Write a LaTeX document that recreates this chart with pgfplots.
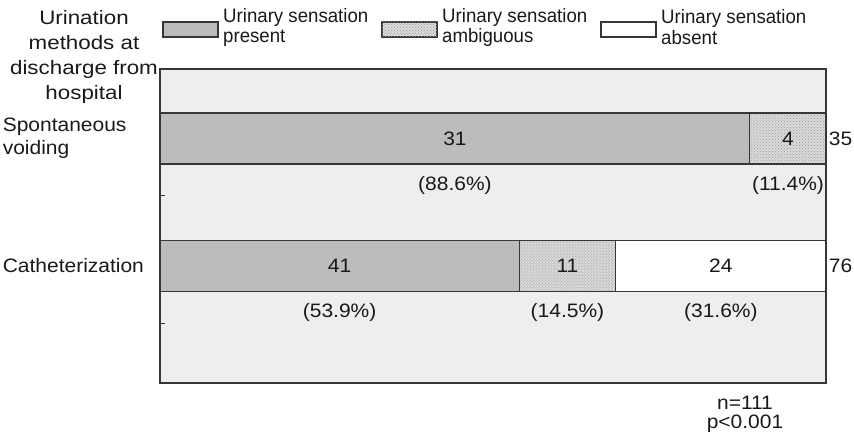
\documentclass[border=0pt]{standalone}
\usepackage{pgfplots}
\pgfplotsset{compat=1.18}
\usetikzlibrary{patterns}
\usepackage{fontspec}
\setmainfont{Liberation Sans}[FakeStretch=1.08]
\newfontfamily\legfont{Liberation Sans}[FakeStretch=0.96]
\newfontfamily\titfont{Liberation Sans}[FakeStretch=1.15]
\definecolor{bgc}{RGB}{238,238,238}
\definecolor{presentc}{RGB}{188,188,188}
\definecolor{ambc}{RGB}{218,218,218}
\definecolor{edgec}{RGB}{55,55,55}
\definecolor{txt}{RGB}{25,25,25}
\begin{document}
\fontsize{19.5pt}{23pt}\selectfont
\begin{tikzpicture}[x=1bp,y=1bp]
\path[use as bounding box] (-160,-51) rectangle (694,383);
\begin{axis}[
  at={(0,0)}, anchor=south west,
  scale only axis, width=666bp, height=314bp,
  xmin=0, xmax=100, ymin=0, ymax=314,
  xbar stacked, bar width=51bp,
  axis background/.style={fill=bgc},
  axis line style={draw=edgec, line width=1.1bp},
  xtick=\empty,
  ytick={117,244.5},
  yticklabels={{Catheterization},{Spontaneous\\voiding}},
  major tick length=0pt,
  extra y ticks={60,188},
  extra y tick labels={},
  extra y tick style={major tick length=5bp, tick style={draw=edgec, line width=0.8bp}},
  tick pos=left, tick align=inside,
  yticklabel style={align=left, text width=154bp, inner sep=0pt, xshift=-3bp, text=txt, font=\fontsize{19.5pt}{23pt}\selectfont},
  clip=false,
]
\addplot[fill=presentc, draw=edgec, line width=1.1bp] coordinates {(88.571,244.5) (53.947,117)};
\addplot[fill=ambc, draw=edgec, line width=1.1bp, postaction={pattern=crosshatch dots, pattern color=gray!80}] coordinates {(11.429,244.5) (14.474,117)};
\addplot[fill=white, draw=edgec, line width=1.1bp] coordinates {(0,244.5) (31.579,117)};
\coordinate (a1) at (axis cs:44.29,244.5);
\coordinate (a2) at (axis cs:94.29,244.5);
\coordinate (b1) at (axis cs:26.97,117);
\coordinate (b2) at (axis cs:61.18,117);
\coordinate (b3) at (axis cs:84.21,117);
\coordinate (pa1) at (axis cs:44.29,198);
\coordinate (pa2) at (axis cs:94.29,198);
\coordinate (pb1) at (axis cs:26.97,71);
\coordinate (pb2) at (axis cs:61.18,71);
\coordinate (pb3) at (axis cs:84.21,71);
\coordinate (ta) at (axis cs:100.4,244.5);
\coordinate (tb) at (axis cs:100.4,117);
\end{axis}
% counts in bars
\node[text=txt] at (a1) {31};
\node[text=txt] at (a2) {4};
\node[text=txt] at (b1) {41};
\node[text=txt] at (b2) {11};
\node[text=txt] at (b3) {24};
% percentages
\node[text=txt] at (pa1) {(88.6\%)};
\node[text=txt] at (pa2) {(11.4\%)};
\node[text=txt] at (pb1) {(53.9\%)};
\node[text=txt] at (pb2) {(14.5\%)};
\node[text=txt] at (pb3) {(31.6\%)};
% totals
\node[text=txt, anchor=west, inner sep=0pt] at (ta) {35};
\node[text=txt, anchor=west, inner sep=0pt] at (tb) {76};
% title
\node[text=txt, align=center, font=\titfont\fontsize{19.5pt}{25pt}\selectfont] at (-76,326) {Urination\\methods at\\discharge from\\hospital};
% legend
\draw[fill=presentc, draw=edgec, line width=1.1bp] (3,346) rectangle (58,361);
\node[text=txt, align=left, anchor=west, inner sep=0pt, font=\legfont\fontsize{19.5pt}{21pt}\selectfont] at (63,355.5) {Urinary sensation\\present};
\draw[fill=ambc, draw=edgec, line width=1.1bp, postaction={pattern=crosshatch dots, pattern color=gray!80}] (222,346) rectangle (277,361);
\node[text=txt, align=left, anchor=west, inner sep=0pt, font=\legfont\fontsize{19.5pt}{21pt}\selectfont] at (282,355.5) {Urinary sensation\\ambiguous};
\draw[fill=white, draw=edgec, line width=1.1bp] (441,346) rectangle (496,361);
\node[text=txt, align=left, anchor=west, inner sep=0pt, font=\legfont\fontsize{19.5pt}{21pt}\selectfont] at (501,355.5) {Urinary sensation\\absent};
% n and p
\node[text=txt, align=center, font=\fontsize{19.5pt}{19pt}\selectfont] at (585,-31) {n=111\\p<0.001};
\end{tikzpicture}
\end{document}
